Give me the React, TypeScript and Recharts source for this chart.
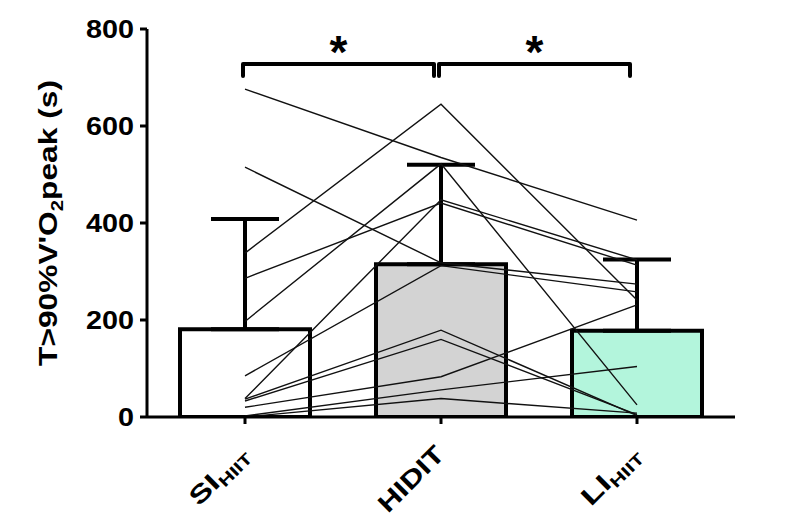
import React from "react";
import {
  ComposedChart,
  Bar,
  Cell,
  ErrorBar,
  Line,
  XAxis,
  YAxis,
  ReferenceLine,
} from "recharts";

const groups = ["SI", "HIDIT", "LI"];
const groupSubs = ["HIIT", "", "HIIT"];
const means = [181, 315, 178];
const sdUpper = [227, 205, 147];
const yTicks = [0, 200, 400, 600, 800];

// one row per subject: SI_HIIT, HIDIT, LI_HIIT
const subjects = [
  [676, 535, 406],
  [515, 318, 274],
  [338, 645, 241],
  [286, 441, 313],
  [197, 522, 25],
  [85, 312, 258],
  [38, 448, 324],
  [37, 179, 3],
  [33, 160, 5],
  [20, 83, 231],
  [2, 56, 104],
  [0, 38, 8],
];

const brackets = [
  { from: "SI", to: "HIDIT", label: "*" },
  { from: "HIDIT", to: "LI", label: "*" },
];

const barFills = ["#ffffff", "#d3d3d3", "#b3f5dc"];
const font = "'Liberation Sans', Arial, Helvetica, sans-serif";

const data = groups.map((g, i) => {
  const row: any = { group: g, mean: means[i], err: [0, sdUpper[i]] };
  subjects.forEach((s, j) => {
    row["p" + j] = s[i];
  });
  return row;
});

const YTick = ({ x, y, payload }: any) => {
  const s = String(payload.value);
  return (
    <text
      x={x}
      y={y}
      dy="0.36em"
      textAnchor="end"
      fontFamily={font}
      fontWeight="bold"
      fontSize={25}
      fill="#000"
      textLength={16 * s.length}
      lengthAdjust="spacingAndGlyphs"
    >
      {s}
    </text>
  );
};

const XTick = ({ x, y, payload, index }: any) => {
  const sub = groupSubs[index];
  return (
    <g transform={`translate(${x + 5},${y + 30}) rotate(-45)`}>
      <text
        x={0}
        y={0}
        textAnchor="end"
        fontFamily={font}
        fontWeight="bold"
        fontSize={25}
        fill="#000"
        textLength={sub ? 72 : 82}
        lengthAdjust="spacingAndGlyphs"
      >
        <tspan>{payload.value}</tspan>
        {sub ? (
          <tspan fontSize={16} dy={5}>
            {sub}
          </tspan>
        ) : null}
      </text>
    </g>
  );
};

const YLabel = ({ viewBox }: any) => {
  const cy = viewBox.y + viewBox.height / 2;
  return (
    <text
      transform={`translate(${viewBox.x - 30},${cy}) rotate(-90)`}
      textAnchor="middle"
      fontFamily={font}
      fontWeight="bold"
      fontSize={25}
      fill="#000"
      textLength={286}
      lengthAdjust="spacingAndGlyphs"
    >
      <tspan>T&gt;90%V'O</tspan>
      <tspan fontSize={16} dy={6}>
        2
      </tspan>
      <tspan dy={-6}>peak (s)</tspan>
    </text>
  );
};

const bracketShape = (label: string) => (props: any) => {
  const { x1, y1, x2 } = props;
  const l = x1 - 2;
  const r = x2 - 7;
  return (
    <g>
      <path
        d={`M${l},${y1 + 12} V${y1} H${r} V${y1 + 12}`}
        fill="none"
        stroke="#000"
        strokeWidth={4}
        strokeLinecap="round"
        strokeLinejoin="round"
      />
      <text
        x={(l + r) / 2}
        y={y1 + 4}
        textAnchor="middle"
        fontFamily={font}
        fontWeight="bold"
        fontSize={46}
        fill="#000"
      >
        {label}
      </text>
    </g>
  );
};

export default function App() {
  return (
    <div style={{ position: "absolute", left: 0, top: 0, width: 798, height: 530, background: "#fff" }}>
      <ComposedChart
        width={798}
        height={530}
        data={data}
        margin={{ top: 29, right: 63, bottom: 13, left: 87 }}
      >
        <XAxis
          dataKey="group"
          height={100}
          interval={0}
          axisLine={{ stroke: "#000", strokeWidth: 3 }}
          tickLine={{ stroke: "#000", strokeWidth: 3 }}
          tickSize={7}
          tickMargin={2}
          tick={<XTick />}
        />
        <YAxis
          width={60}
          domain={[0, 800]}
          ticks={yTicks}
          interval={0}
          allowDataOverflow
          axisLine={{ stroke: "#000", strokeWidth: 3 }}
          tickLine={{ stroke: "#000", strokeWidth: 3 }}
          tickSize={7}
          tickMargin={6}
          tick={<YTick />}
          label={<YLabel />}
        />
        <Bar
          dataKey="mean"
          barSize={130}
          stroke="#000"
          strokeWidth={4}
          isAnimationActive={false}
        >
          {data.map((d, i) => (
            <Cell key={d.group} fill={barFills[i]} />
          ))}
          <ErrorBar dataKey="err" width={34} stroke="#000" strokeWidth={4} />
        </Bar>
        {subjects.map((_, j) => (
          <Line
            key={j}
            dataKey={"p" + j}
            type="linear"
            stroke="#111"
            strokeWidth={1.4}
            dot={false}
            activeDot={false}
            isAnimationActive={false}
          />
        ))}
        {brackets.map((b, i) => (
          <ReferenceLine
            key={i}
            segment={[
              { x: b.from, y: 728 },
              { x: b.to, y: 728 },
            ]}
            ifOverflow="visible"
            shape={bracketShape(b.label)}
          />
        ))}
      </ComposedChart>
    </div>
  );
}
